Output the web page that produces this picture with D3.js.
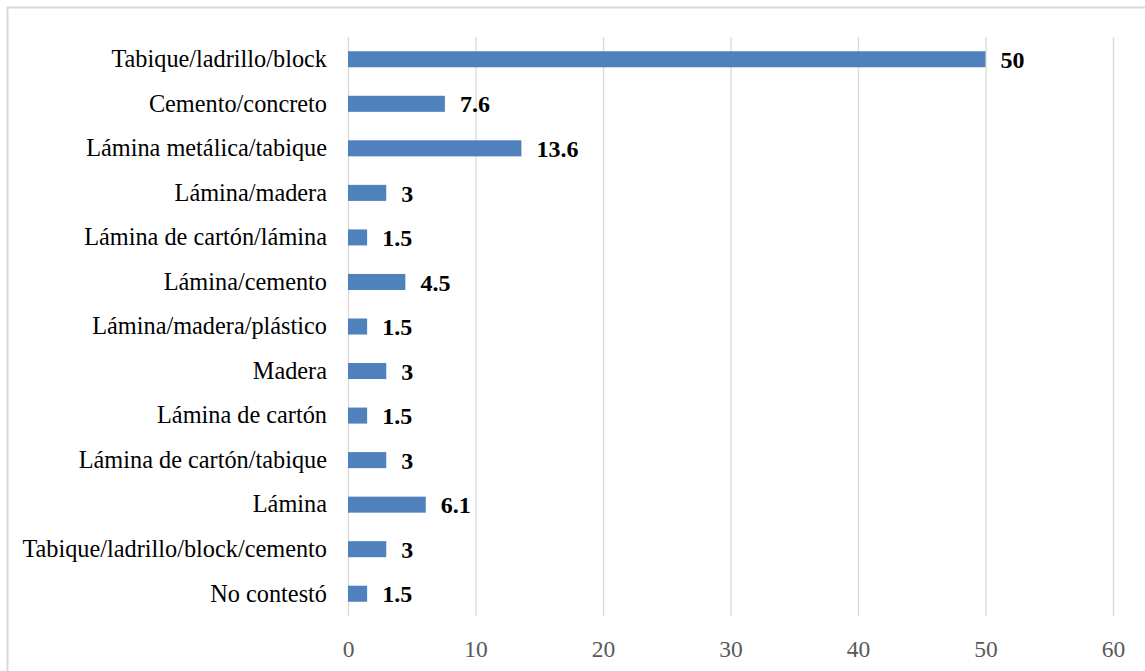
<!DOCTYPE html>
<html>
<head>
<meta charset="utf-8">
<script src="https://cdn.jsdelivr.net/npm/d3@7"></script>
<style>
  body { margin: 0; background: #fff; }
  svg { display: block; }
</style>
</head>
<body>
<svg id="chart" width="1145" height="671"></svg>
<script>
// data, top to bottom
const categories = [
  "Tabique/ladrillo/block",
  "Cemento/concreto",
  "Lámina metálica/tabique",
  "Lámina/madera",
  "Lámina de cartón/lámina",
  "Lámina/cemento",
  "Lámina/madera/plástico",
  "Madera",
  "Lámina de cartón",
  "Lámina de cartón/tabique",
  "Lámina",
  "Tabique/ladrillo/block/cemento",
  "No contestó"
];
const values = [50, 7.6, 13.6, 3, 1.5, 4.5, 1.5, 3, 1.5, 3, 6.1, 3, 1.5];
const ticks = [0, 10, 20, 30, 40, 50, 60];

const rows = categories.map((c, i) => ({ cat: c, val: values[i] }));

const svg = d3.select("#chart");
const margin = { top: 37, left: 348, right: 32, bottom: 55 };
const W = 1145, H = 671;

// outer frame
svg.append("rect")
  .attr("x", 7.5).attr("y", 7.5)
  .attr("width", W).attr("height", H)
  .attr("fill", "none")
  .attr("stroke", "#d9d9d9")
  .attr("stroke-width", 2);

const x = d3.scaleLinear()
  .domain([0, 60])
  .range([margin.left, W - margin.right]);

const y = d3.scaleBand()
  .domain(categories)
  .range([margin.top, H - margin.bottom])
  .paddingInner(0.64)
  .paddingOuter(0.32);

// grid lines
svg.append("g")
  .selectAll("line")
  .data(ticks)
  .join("line")
  .attr("x1", d => x(d) + 0.5).attr("x2", d => x(d) + 0.5)
  .attr("y1", margin.top).attr("y2", H - margin.bottom)
  .attr("stroke", "#d9d9d9")
  .attr("stroke-width", 1.3);

// x axis labels
const xAxis = d3.axisBottom(x).tickValues(ticks).tickSize(0).tickPadding(24);
const gx = svg.append("g")
  .attr("transform", `translate(0,${H - margin.bottom})`)
  .call(xAxis);
gx.select(".domain").remove();
gx.selectAll("text")
  .style("font-family", "'Liberation Serif', serif")
  .style("font-size", "23.5px")
  .attr("fill", "#595959");

// category labels
const yAxis = d3.axisLeft(y).tickSize(0).tickPadding(21);
const gy = svg.append("g")
  .attr("transform", `translate(${margin.left},0)`)
  .call(yAxis);
gy.select(".domain").remove();
gy.selectAll("text")
  .style("font-family", "'Liberation Serif', serif")
  .style("font-size", "24.3px")
  .attr("fill", "#000");

// bars
svg.append("g")
  .selectAll("rect")
  .data(rows)
  .join("rect")
  .attr("x", x(0))
  .attr("y", d => y(d.cat))
  .attr("width", d => x(d.val) - x(0))
  .attr("height", y.bandwidth())
  .attr("fill", "#4f81bd");

// value labels
svg.append("g")
  .selectAll("text")
  .data(rows)
  .join("text")
  .attr("x", d => x(d.val) + 15)
  .attr("y", d => y(d.cat) + y.bandwidth() / 2)
  .attr("dy", "0.36em")
  .style("font-family", "'Liberation Serif', serif")
  .attr("font-weight", "bold")
  .style("font-size", "24px")
  .attr("fill", "#000")
  .text(d => d.val);
</script>
</body>
</html>
